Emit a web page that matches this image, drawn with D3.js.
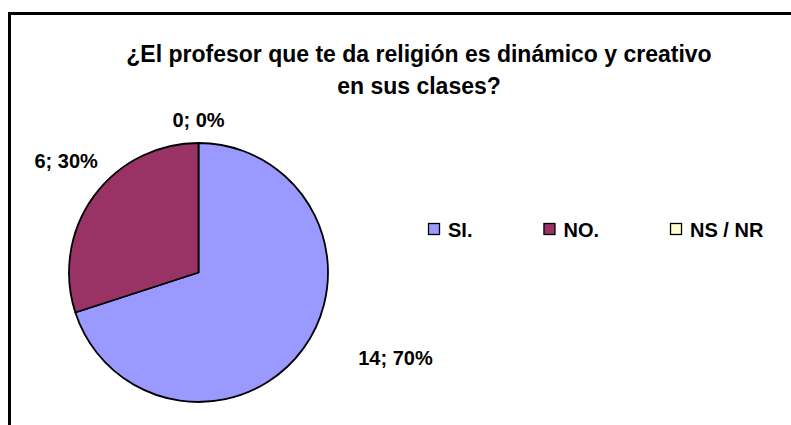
<!DOCTYPE html>
<html lang="es">
  <head>
    <meta charset="UTF-8" />
    <title>Profesor de religión</title>
    <style>
      body {
        margin: 0;
        background: #ffffff;
      }
      svg text {
        font-family: "Liberation Sans", Arial, sans-serif;
        font-weight: bold;
        fill: #000000;
      }
    </style>
  </head>
  <body>
    <div id="chart"></div>

    <script src="https://cdn.jsdelivr.net/npm/d3@7"></script>
    <script>
      // data
      const categories = ["SI.", "NO.", "NS / NR"];
      const counts = [14, 6, 0];
      const colors = ["#9999ff", "#993366", "#ffffcc"];
      const titleLines = [
        "¿El profesor que te da religión es dinámico y creativo",
        "en sus clases?",
      ];

      const width = 791;
      const height = 425;

      const svg = d3
        .select("#chart")
        .append("svg")
        .attr("width", width)
        .attr("height", height);

      // chart frame (runs off the right and bottom of the picture)
      svg
        .append("rect")
        .attr("x", 9.5)
        .attr("y", 13.5)
        .attr("width", 820)
        .attr("height", 440)
        .attr("fill", "#fff")
        .attr("stroke", "#000")
        .attr("stroke-width", 3);

      // title
      svg
        .append("text")
        .attr("text-anchor", "middle")
        .style("font-size", "23px")
        .selectAll("tspan")
        .data(titleLines)
        .enter()
        .append("tspan")
        .attr("x", 419)
        .attr("y", (d, i) => 62 + i * 32)
        .text((d) => d);

      // pie
      const cx = 198.5;
      const cy = 272.5;
      const radius = 129.5;

      const total = d3.sum(counts);
      const rows = categories.map((c, i) => ({
        name: c,
        value: counts[i],
        color: colors[i],
      }));

      const pie = d3
        .pie()
        .sort(null)
        .value((d) => d.value);
      const arcs = pie(rows);

      const arc = d3.arc().innerRadius(0).outerRadius(radius);
      const labelArc = d3
        .arc()
        .innerRadius(radius + 16)
        .outerRadius(radius + 16);

      const g = svg.append("g").attr("transform", `translate(${cx},${cy})`);

      g.selectAll("path.slice")
        .data(arcs.filter((d) => d.value > 0))
        .enter()
        .append("path")
        .attr("class", "slice")
        .attr("d", arc)
        .attr("fill", (d) => d.data.color)
        .attr("stroke", "#000")
        .attr("stroke-width", 1.8)
        .attr("stroke-linejoin", "round");

      // Excel moved a couple of labels a bit off the plain outside position
      const labelNudge = { "SI.": [42, -8], "NO.": [17, -19] };
      const pct = d3.format(".0%");

      g.selectAll("text.label")
        .data(arcs)
        .enter()
        .append("text")
        .attr("class", "label")
        .style("font-size", "20px")
        .each(function (d) {
          const [x, y] = labelArc.centroid(d);
          const mid = (d.startAngle + d.endAngle) / 2;
          const s = Math.sin(mid);
          const anchor = s > 0.1 ? "start" : s < -0.1 ? "end" : "middle";
          const nudge = labelNudge[d.data.name] || [0, 0];
          // labels in the lower half hang below their point
          const base = Math.cos(mid) < 0 ? y + 15 : y;
          d3.select(this)
            .attr("text-anchor", anchor)
            .attr("x", x + nudge[0])
            .attr("y", base + nudge[1])
            .text(d.data.value + "; " + pct(d.data.value / total));
        });

      // legend
      const legend = svg.append("g").attr("transform", "translate(428,223)");
      let lx = 0;
      rows.forEach((r) => {
        const item = legend.append("g").attr("transform", `translate(${lx},0)`);
        item
          .append("rect")
          .attr("x", 0.5)
          .attr("y", 0.5)
          .attr("width", 11)
          .attr("height", 11)
          .attr("fill", r.color)
          .attr("stroke", "#000")
          .attr("stroke-width", 1.3);
        const t = item
          .append("text")
          .attr("x", 20)
          .attr("y", 14)
          .style("font-size", "20px")
          .text(r.name);
        lx += 20 + t.node().getComputedTextLength() + 71;
      });
    </script>
  </body>
</html>
